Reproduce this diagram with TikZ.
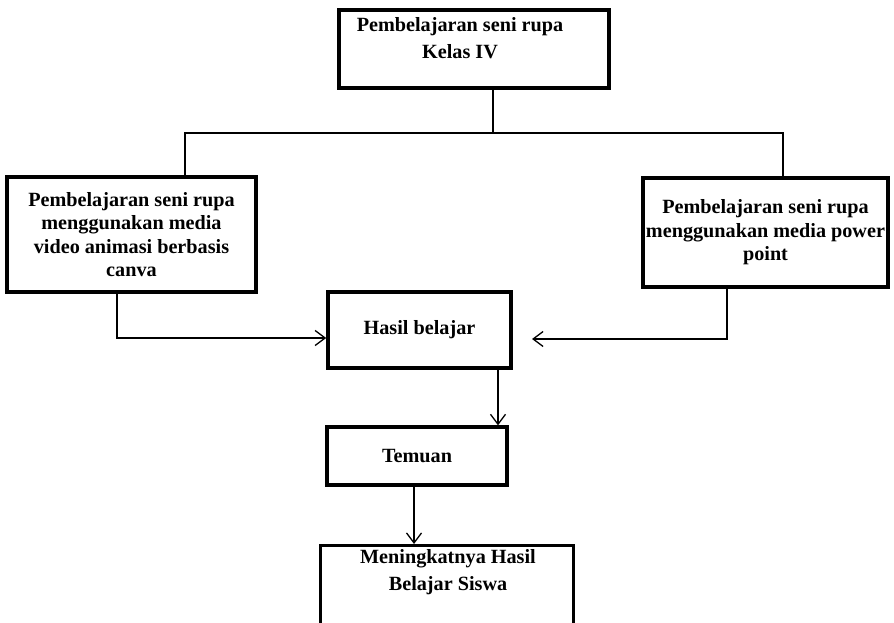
\documentclass[tikz,border=0pt]{standalone}
\usepackage{fontspec}
\setmainfont{Liberation Serif}
\usetikzlibrary{arrows.meta}
\begin{document}
\begin{tikzpicture}[x=1pt,y=-1pt,
  boxa/.style={draw, line width=3.6pt, inner sep=0pt, align=center,
    font=\bfseries\fontsize{20.2pt}{23.4pt}\selectfont},
  txt/.style={inner sep=0pt, align=center,
    font=\bfseries\fontsize{20.2pt}{27pt}\selectfont},
  conn/.style={line width=1.3pt},
  arr/.style={conn, -{Straight Barb[length=10pt,width=15pt,line width=1.3pt]}}]
\useasboundingbox (0,0) rectangle (894,623);
\clip (0,0) rectangle (894,623);
% boxes
\node[boxa, minimum width=270pt, minimum height=78pt] (top) at (474,49) {};
\node[txt] (toptxt) at (460,38.5) {Pembelajaran seni rupa\\Kelas IV};
\node[boxa, minimum width=249pt, minimum height=115pt] (left) at (131.5,234.5)
  {\raisebox{-2.5pt}{\parbox{245pt}{\centering Pembelajaran seni rupa\\menggunakan media\\video animasi berbasis\\canva}}};
\node[boxa, minimum width=245pt, minimum height=109pt] (right) at (765.5,232.5)
  {\raisebox{-4.5pt}{\parbox{245pt}{\centering Pembelajaran seni rupa\\menggunakan media power\\point}}};
\node[boxa, minimum width=183pt, minimum height=76pt] (hasil) at (419.5,330) {Hasil belajar};
\node[boxa, line width=3.3pt, minimum width=180pt, minimum height=58pt] (temuan) at (417,456) {Temuan};
\node[boxa, line width=3pt, minimum width=253pt, minimum height=140pt, anchor=north] (final) at (446.5,544) {};
\node[txt] (finaltxt) at (448,572.5) {Meningkatnya Hasil\\Belajar Siswa};
% connectors
\coordinate (j) at (493,133);
\draw[conn] (top.south -| j) -- (j);
\coordinate (lt) at (185,177);
\coordinate (rt) at (783,178);
\draw[conn] (left.north -| lt) |- (j) -| (right.north -| rt);
\coordinate (lb) at (117,338);
\draw[arr] (left.south -| lb) |- (hasil.west |- lb);
\coordinate (rb) at (727,339);
\coordinate (rend) at (532,339);
\draw[arr] (right.south -| rb) |- (rend);
\coordinate (hb) at (498,0);
\draw[arr] (hasil.south -| hb) -- (temuan.north -| hb);
\coordinate (tb) at (414,0);
\draw[arr] (temuan.south -| tb) -- (final.north -| tb);
\end{tikzpicture}
\end{document}
